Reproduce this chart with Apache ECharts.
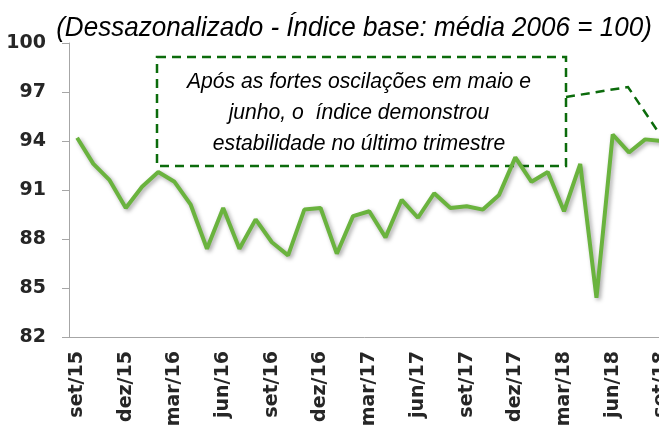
<!DOCTYPE html>
<html>
<head>
<meta charset="utf-8">
<script src="https://cdn.jsdelivr.net/npm/echarts@6/dist/echarts.min.js"></script>
<style>
	html, body { margin: 0; padding: 0; background: #fff; }
	#chart { width: 659px; height: 425px; }
</style>
</head>
<body>
<div id="chart"></div>
<script>
var months = ['set/15', 'out/15', 'nov/15', 'dez/15', 'jan/16', 'fev/16', 'mar/16', 'abr/16', 'mai/16',
	'jun/16', 'jul/16', 'ago/16', 'set/16', 'out/16', 'nov/16', 'dez/16', 'jan/17', 'fev/17', 'mar/17',
	'abr/17', 'mai/17', 'jun/17', 'jul/17', 'ago/17', 'set/17', 'out/17', 'nov/17', 'dez/17', 'jan/18',
	'fev/18', 'mar/18', 'abr/18', 'mai/18', 'jun/18', 'jul/18', 'ago/18', 'set/18'];
var indice = [94.2, 92.6, 91.6, 89.9, 91.2, 92.1, 91.5, 90.1, 87.4,
	89.9, 87.4, 89.2, 87.8, 87.0, 89.8, 89.9, 87.1, 89.4, 89.7,
	88.1, 90.4, 89.3, 90.8, 89.9, 90.0, 89.8, 90.7, 93.0, 91.5,
	92.1, 89.7, 92.6, 84.4, 94.4, 93.3, 94.1, 94.0];
var yMin = 82, yMax = 100, yStep = 3;

var subtitulo = '(Dessazonalizado - Índice base: média 2006 = 100)';
var nota = 'Após as fortes oscilações em maio e\njunho, o  índice demonstrou\nestabilidade no último trimestre';

var verde = '#6AB33E';
var verdeEscuro = '#0B6B0B';
var cinza = '#A6A6A6';

var chart = echarts.init(document.getElementById('chart'));
var option = {
	animation: false,
	grid: {
		left: 69,
		top: 43,
		bottom: 88,
		right: -10.5, //grafico cortado na direita
		outerBoundsMode: 'none'
	},
	xAxis: {
		type: 'category',
		data: months,
		boundaryGap: true,
		axisLine: { lineStyle: { color: cinza, width: 1 } },
		axisTick: { interval: 2, length: 6, lineStyle: { color: cinza } },
		axisLabel: {
			interval: 2,
			rotate: 90,
			margin: 14,
			fontFamily: 'DejaVu Sans',
			fontWeight: 'bold',
			fontSize: 19,
			color: '#262626'
		},
		splitLine: { show: false }
	},
	yAxis: {
		type: 'value',
		min: yMin,
		max: yMax,
		interval: yStep,
		axisLine: { show: true, lineStyle: { color: cinza, width: 1 } },
		axisTick: { show: true, length: 7, lineStyle: { color: cinza } },
		axisLabel: {
			margin: 23,
			fontFamily: 'DejaVu Sans',
			fontWeight: 'bold',
			fontSize: 19,
			color: '#262626'
		},
		splitLine: { show: false }
	},
	series: [{
		type: 'line',
		data: indice,
		symbol: 'none',
		z: 5,
		lineStyle: {
			color: verde,
			width: 4,
			shadowColor: 'rgba(0,0,0,0.35)',
			shadowBlur: 4,
			shadowOffsetX: 2,
			shadowOffsetY: 2
		}
	}],
	graphic: [
		{
			type: 'text',
			x: 354, y: 28,
			scaleX: 0.93,
			style: {
				text: subtitulo,
				align: 'center',
				verticalAlign: 'middle',
				font: 'italic 28px "Liberation Sans", Arial, sans-serif',
				fill: '#000'
			}
		},
		{
			type: 'rect',
			z: 1,
			shape: { x: 157, y: 57, width: 409, height: 109 },
			style: { fill: 'none', stroke: verdeEscuro, lineWidth: 2.5, lineDash: [9, 6] }
		},
		{
			type: 'polyline',
			z: 1,
			shape: { points: [[566, 97], [628, 87], [665, 142]] },
			style: { fill: 'none', stroke: verdeEscuro, lineWidth: 2.5, lineDash: [9, 6] }
		},
		{
			type: 'text',
			x: 359, y: 113,
			scaleX: 0.96,
			style: {
				text: nota,
				align: 'center',
				verticalAlign: 'middle',
				lineHeight: 31,
				font: 'italic 22px "Liberation Sans", Arial, sans-serif',
				fill: '#000'
			}
		}
	]
};
chart.setOption(option);
</script>
</body>
</html>
